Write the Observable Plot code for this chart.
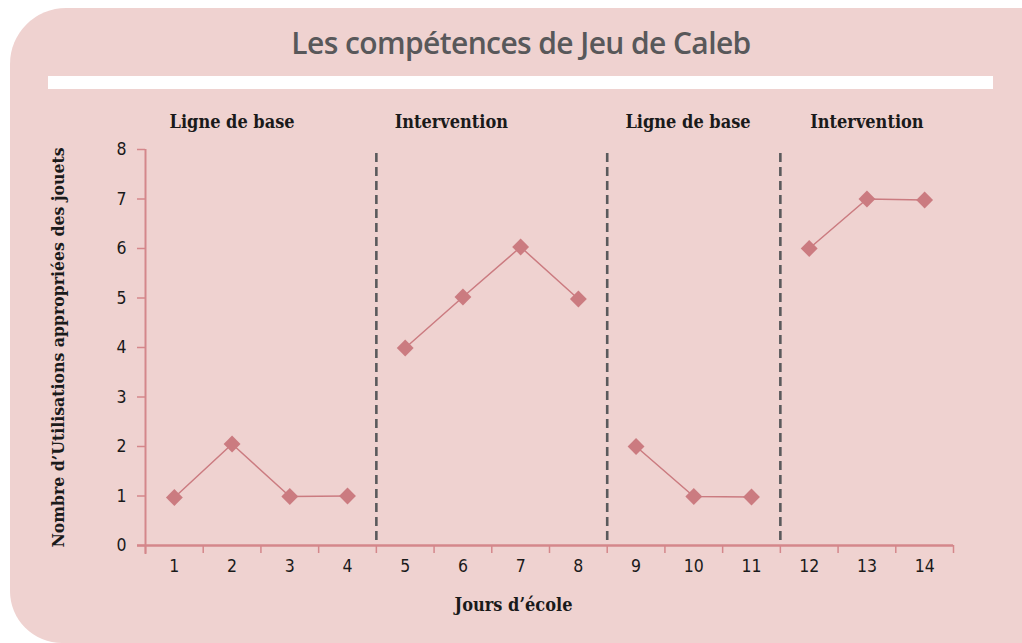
<!DOCTYPE html>
<html>
<head>
<meta charset="utf-8">
<script src="https://cdn.jsdelivr.net/npm/d3@7"></script>
<script src="https://cdn.jsdelivr.net/npm/@observablehq/plot@0.6"></script>
<style>
  html, body { margin: 0; padding: 0; background: #ffffff; }
  #wrap { position: relative; width: 1022px; height: 643px; overflow: hidden; }
  #panel { position: absolute; left: 10px; top: 8px; right: 0; bottom: 0; background: #efd2d0; border-radius: 56px 0 0 52px; }
  #title { position: absolute; left: 521px; top: 22px; transform: translateX(-50%); white-space: nowrap;
           font-family: "Open Sans", Roboto, sans-serif; font-size: 30px; font-weight: 600; color: #58585a; letter-spacing: -0.6px; }
  #bar { position: absolute; left: 48px; top: 76px; width: 945px; height: 13px; background: #ffffff; }
  #chart { position: absolute; left: 0; top: 0; }
</style>
</head>
<body>
<div id="wrap">
  <div id="panel"></div>
  <div id="title">Les compétences de Jeu de Caleb</div>
  <div id="bar"></div>
  <div id="chart"></div>
</div>
<script>
// ---- data ----
const days = [1, 2, 3, 4, 5, 6, 7, 8, 9, 10, 11, 12, 13, 14];
const values = [0.97, 2.05, 0.99, 1.0, 3.99, 5.02, 6.03, 4.98, 2.0, 0.99, 0.98, 6.0, 7.0, 6.98];
const phaseNames = ["Ligne de base", "Intervention", "Ligne de base", "Intervention"];
const phaseFirstDay = [1, 5, 9, 12];
const phaseLastDay = [4, 8, 11, 14];
const phaseLabelDay = [2, 5.8, 9.9, 13];
const yTicks = [0, 1, 2, 3, 4, 5, 6, 7, 8];
const xTickLabels = ["1","2","3","4","5","6","7","8","9","10","11","12","13","14"];
const yTitle = "Nombre d’Utilisations appropriées des jouets";
const xTitle = "Jours d’école";

// ---- derived tables ----
const phaseOf = d => phaseFirstDay.findLastIndex(s => d >= s);
const rows = days.map((d, i) => ({day: d, value: values[i], phase: phaseOf(d)}));
const bounds = d3.range(days[0] - 0.5, days[days.length - 1] + 1, 1);
const separators = phaseFirstDay.slice(1).map(s => s - 0.5);
const phaseLabels = phaseNames.map((n, i) => ({name: n, x: phaseLabelDay[i]}));
const yMax = yTicks[yTicks.length - 1];

const axisColor = "#d4878b";
const pointColor = "#cb7b80";
const slab = "'DejaVu Serif Condensed', 'DejaVu Serif', 'Liberation Serif', serif";
const narrow = "'Liberation Sans Narrow', 'DejaVu Sans Condensed', Roboto, sans-serif";

const chart = Plot.plot({
  width: 1022,
  height: 643,
  marginLeft: 145,
  marginRight: 69,
  marginTop: 149,
  marginBottom: 98,
  style: {background: "transparent", fontFamily: narrow, fontSize: "17px", color: "#1a1a1a"},
  x: {domain: [0.5, 14.5]},
  y: {domain: [0, yMax]},
  marks: [
    Plot.axisX({ticks: bounds, tickSize: 8, tickFormat: () => "", stroke: axisColor, strokeWidth: 1.5, label: null}),
    Plot.axisX({ticks: days, tickSize: 0, tickPadding: 14, tickFormat: d => xTickLabels[days.indexOf(d)], fill: "#1a1a1a", fontFamily: narrow, fontSize: 17.5, label: null}),
    Plot.axisY({ticks: yTicks, tickSize: 8, tickPadding: 11, stroke: axisColor, strokeWidth: 1.5, fill: "#1a1a1a", fontFamily: narrow, fontSize: 17.5, label: null}),
    Plot.ruleY([0], {stroke: axisColor, strokeWidth: 2.5, insetLeft: -8}),
    Plot.ruleX([bounds[0]], {y1: yMax, y2: 0, stroke: axisColor, strokeWidth: 2, insetBottom: -9}),
    Plot.ruleX(separators, {y1: yMax, y2: 0, insetTop: 4, stroke: "#5a5a5c", strokeWidth: 2.6, strokeDasharray: "9,5"}),
    Plot.line(rows, {x: "day", y: "value", z: "phase", stroke: pointColor, strokeWidth: 1.5}),
    Plot.dot(rows, {x: "day", y: "value", symbol: "diamond2", r: 7.6, fill: pointColor, stroke: "none"}),
    Plot.text(phaseLabels, {x: "x", y: yMax, text: "name", dy: -27, fontFamily: slab, fontWeight: "bold", fontSize: 18, fill: "#1a1a1a"}),
    Plot.text([yTitle], {frameAnchor: "left", textAnchor: "middle", dx: -87, rotate: -90, fontFamily: slab, fontWeight: "bold", fontSize: 17.5, fill: "#1a1a1a"}),
    Plot.text([xTitle], {frameAnchor: "bottom", dx: -36, dy: 65, fontFamily: slab, fontWeight: "bold", fontSize: 18, fill: "#1a1a1a"})
  ]
});
document.getElementById("chart").appendChild(chart);
</script>
</body>
</html>
